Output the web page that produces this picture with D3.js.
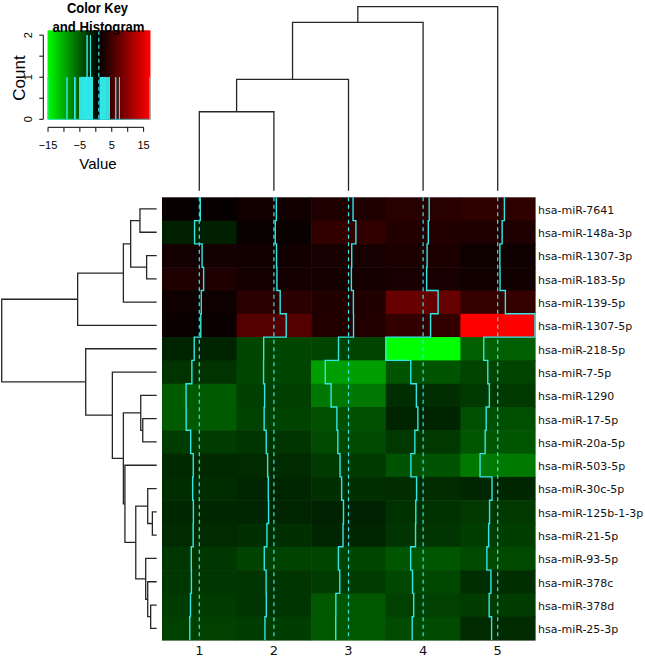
<!DOCTYPE html>
<html><head><meta charset="utf-8">
<script src="https://cdn.jsdelivr.net/npm/d3@7"></script>
<style>body{margin:0;background:#fff}svg{display:block}</style>
</head><body>
<svg id="c" width="645" height="658"></svg>
<script>
// ---------- data ----------
const colLabels = ["1","2","3","4","5"];
const rowLabels = ["hsa-miR-7641","hsa-miR-148a-3p","hsa-miR-1307-3p","hsa-miR-183-5p","hsa-miR-139-5p",
  "hsa-miR-1307-5p","hsa-miR-218-5p","hsa-miR-7-5p","hsa-miR-1290","hsa-miR-17-5p","hsa-miR-20a-5p",
  "hsa-miR-503-5p","hsa-miR-30c-5p","hsa-miR-125b-1-3p","hsa-miR-21-5p","hsa-miR-93-5p","hsa-miR-378c",
  "hsa-miR-378d","hsa-miR-25-3p"];
const col1 = [1.37,-1.09,2.15,2.81,1.81,1.59,-1.25,-2.25,-4.75,-4.70,-2.75,-1.65,-1.90,-1.60,-1.70,-2.50,-2.45,-2.85,-3.15];
const col2 = [2.00,1.52,2.08,2.24,3.65,6.25,-3.45,-3.50,-3.05,-3.25,-2.35,-1.75,-1.45,-1.35,-2.05,-3.20,-2.40,-2.32,-2.90];
const col3 = [2.91,4.13,2.33,2.19,3.05,3.11,-3.35,-9.05,-6.55,-4.05,-3.65,-2.69,-2.00,-1.20,-1.40,-3.40,-2.80,-4.50,-4.55];
const col4 = [3.56,3.18,2.67,2.47,7.40,4.16,-15.10,-4.35,-1.95,-1.30,-2.60,-4.30,-1.85,-2.20,-2.30,-4.40,-3.60,-3.10,-3.75];
const col5 = [3.83,2.86,1.88,1.95,4.25,17.00,-5.05,-3.32,-2.65,-4.00,-4.45,-6.65,-1.50,-2.55,-2.95,-3.70,-1.97,-2.73,-1.67];
// hclust-style merges: negative = leaf (1-based), positive = earlier merge; third = height
const rowMerge = [[-1,-2,10.8],[-3,-4,6.5],[1,2,16.8],[3,-5,21.5],[4,-6,51.0],[-10,-11,9.0],[-9,6,10.3],
  [-14,-15,2.8],[-13,8,5.8],[-18,-19,3.9],[-17,10,5.8],[-16,11,7.1],[9,12,13.5],[-12,13,20.5],[7,14,21.5],
  [-8,15,28.6],[-7,16,45.8],[5,17,100]];
const colMerge = [[-1,-2,42.9],[1,-3,60.5],[2,-4,91.5],[3,-5,100]];
const keyTicks = [-15,-10,-5,0,5,10,15];
const keyTickLabels = ["\u221215","","\u22125","","5","","15"];
const nBreaks = 1000;

// ---------- setup ----------
const series = [col1,col2,col3,col4,col5];
const svg = d3.select("#c");
const traceCol = "#33e6e6";
const dendCol = "#262626";
const hm = {x0:162, x1:535, y0:197.3, y1:640};
const x = d3.scaleBand().domain(colLabels).range([hm.x0,hm.x1]);
const y = d3.scaleBand().domain(rowLabels).range([hm.y0,hm.y1]);
const bw = x.bandwidth(), bh = y.bandwidth();
const all = series.flat();
const vmin = d3.min(all), vmax = d3.max(all), vmid = (vmin+vmax)/2;
const breaks = d3.range(nBreaks).map(i => vmin + (vmax-vmin)*i/(nBreaks-1));
const colorLin = d3.scaleLinear().domain([vmin,vmid,vmax]).range(["#00ff00","#000000","#ff0000"]);
const color = d3.scaleQuantize().domain([vmin,vmax]).range(d3.range(nBreaks-1).map(i => colorLin((breaks[i]+breaks[i+1])/2)));

// ---------- heatmap cells ----------
const cells = [];
series.forEach((s,j) => s.forEach((v,i) => cells.push({c:colLabels[j], r:rowLabels[i], v})));
svg.append("g").selectAll("rect").data(cells).join("rect")
  .attr("x", d => x(d.c)).attr("y", d => y(d.r))
  .attr("width", bw+0.6).attr("height", bh+0.6)
  .attr("fill", d => color(d.v));

// ---------- traces ----------
const gT = svg.append("g");
series.forEach((s,j) => {
  const tx = d3.scaleLinear().domain([vmin,vmax]).range([x(colLabels[j]), x(colLabels[j])+bw]);
  gT.append("line").attr("x1", tx(vmid)).attr("x2", tx(vmid)).attr("y1", hm.y0).attr("y2", hm.y1)
    .attr("stroke", traceCol).attr("stroke-width", 1.2).attr("stroke-dasharray", "4,3.5");
  const pts = [];
  s.forEach((v,i) => { pts.push([tx(v), y(rowLabels[i])]); pts.push([tx(v), y(rowLabels[i])+bh]); });
  gT.append("path").attr("d", d3.line()(pts)).attr("fill","none")
    .attr("stroke", traceCol).attr("stroke-width", 1.4);
});

// ---------- dendrograms ----------
function dendro(merge, leafPos, hScale, horiz, g) {
  const pos = [], hgt = [];
  const P = k => k < 0 ? leafPos(-k-1) : pos[k-1];
  const H = k => k < 0 ? 0 : hgt[k-1];
  merge.forEach(([a,b,h], i) => {
    pos[i] = (P(a)+P(b))/2; hgt[i] = h;
    const pa = P(a), pb = P(b), ha = H(a), hb = H(b);
    const p = horiz
      ? [[hScale(ha),pa],[hScale(h),pa],[hScale(h),pb],[hScale(hb),pb]]
      : [[pa,hScale(ha)],[pa,hScale(h)],[pb,hScale(h)],[pb,hScale(hb)]];
    g.append("path").attr("d", d3.line()(p)).attr("fill","none")
      .attr("stroke", dendCol).attr("stroke-width", 1.3);
  });
}
dendro(rowMerge, i => y(rowLabels[i])+bh/2, d3.scaleLinear().domain([0,100]).range([156.7,1.7]), true, svg.append("g"));
dendro(colMerge, i => x(colLabels[i])+bw/2, d3.scaleLinear().domain([0,100]).range([190.7,6.7]), false, svg.append("g"));

// ---------- labels ----------
svg.append("g").selectAll("text").data(rowLabels).join("text")
  .attr("x", 538).attr("y", d => y(d)+bh/2+1).attr("dy","0.35em")
  .attr("font-family","DejaVu Sans, Verdana, sans-serif").attr("font-size", 11).attr("fill","#111")
  .text(d => d);
svg.append("g").selectAll("text").data(colLabels).join("text")
  .attr("x", d => x(d)+bw/2).attr("y", 655).attr("text-anchor","middle")
  .attr("font-family","DejaVu Sans, Verdana, sans-serif").attr("font-size", 13).attr("fill","#111")
  .text(d => d);

// ---------- color key ----------
const kx = d3.scaleLinear().domain([vmin,vmax]).range([47.7,150]);
const ky = d3.scaleLinear().domain([0,1]).range([119.3,30.7]);
const gK = svg.append("g");
gK.selectAll("rect").data(d3.range(nBreaks-1)).join("rect")
  .attr("x", i => kx(breaks[i])).attr("width", i => kx(breaks[i+1])-kx(breaks[i])+0.3)
  .attr("y", ky(1)).attr("height", ky(0)-ky(1))
  .attr("fill", i => color((breaks[i]+breaks[i+1])/2));
const bins = d3.bin().domain([vmin,vmax]).thresholds(breaks.slice(1,-1))(all);
const counts = bins.map(b => b.length);
const maxC = d3.max(counts);
const hpts = counts.map((c,i) => [kx(breaks[i]), ky(c/maxC*0.95)]);
hpts.push([kx(breaks[nBreaks-1]), ky(counts[counts.length-1]/maxC*0.95)]);
gK.append("path").attr("d", d3.line().curve(d3.curveStepAfter)(hpts)).attr("fill","none")
  .attr("stroke", traceCol).attr("stroke-width", 1);
gK.append("line").attr("x1", kx(vmid)).attr("x2", kx(vmid)).attr("y1", ky(1)).attr("y2", ky(0))
  .attr("stroke", traceCol).attr("stroke-width", 1.2).attr("stroke-dasharray","4,3");

// x axis of key
const axY = 127.3;
gK.append("line").attr("x1", kx(keyTicks[0])).attr("x2", kx(keyTicks[keyTicks.length-1]))
  .attr("y1", axY).attr("y2", axY).attr("stroke","#000");
gK.selectAll(".kt").data(keyTicks).join("line").attr("class","kt")
  .attr("x1", d => kx(d)).attr("x2", d => kx(d)).attr("y1", axY).attr("y2", axY+4.5).attr("stroke","#000");
gK.selectAll(".kl").data(keyTicks).join("text").attr("class","kl")
  .attr("x", d => kx(d)).attr("y", 149.3).attr("text-anchor","middle")
  .attr("font-family","Liberation Sans, Arial, sans-serif").attr("font-size", 11)
  .text((d,i) => keyTickLabels[i]);
gK.append("text").attr("x", 98).attr("y", 169).attr("text-anchor","middle")
  .attr("font-family","Liberation Sans, Arial, sans-serif").attr("font-size", 15).text("Value");

// y axis of key
const yTicks = d3.range(0, maxC+1e-9, 0.5);
const axX = 43.3;
const yk = t => ky(t/maxC*0.95);
gK.append("line").attr("x1", axX).attr("x2", axX).attr("y1", yk(0)).attr("y2", yk(maxC)).attr("stroke","#000");
gK.selectAll(".yt").data(yTicks).join("line").attr("class","yt")
  .attr("x1", axX-4).attr("x2", axX).attr("y1", d => yk(d)).attr("y2", d => yk(d)).attr("stroke","#000");
gK.selectAll(".yl").data(yTicks.filter(t => Number.isInteger(t))).join("text").attr("class","yl")
  .attr("transform", d => `translate(32,${yk(d)}) rotate(-90)`).attr("text-anchor","middle")
  .attr("font-family","Liberation Sans, Arial, sans-serif").attr("font-size", 11).text(d => d);
gK.append("text").attr("transform","translate(25,78) rotate(-90)").attr("text-anchor","middle")
  .attr("font-family","Liberation Sans, Arial, sans-serif").attr("font-size", 17).text("Count");

// title
gK.append("text").attr("x", 97.5).attr("y", 12.5).attr("text-anchor","middle")
  .attr("font-family","Liberation Sans, Arial, sans-serif").attr("font-size", 15).attr("font-weight","bold")
  .attr("textLength", 61).attr("lengthAdjust","spacingAndGlyphs").text("Color Key");
gK.append("text").attr("x", 98.5).attr("y", 31.5).attr("text-anchor","middle")
  .attr("font-family","Liberation Sans, Arial, sans-serif").attr("font-size", 15).attr("font-weight","bold")
  .attr("textLength", 92).attr("lengthAdjust","spacingAndGlyphs").text("and Histogram");
</script>
</body></html>
